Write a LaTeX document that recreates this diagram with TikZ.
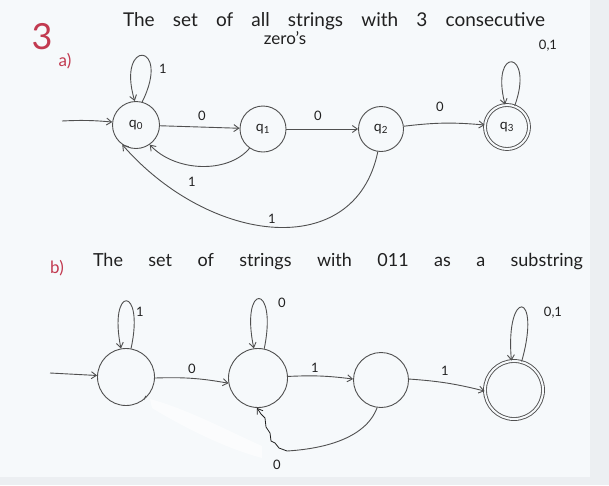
\documentclass[tikz,border=0pt]{standalone}
\usepackage{fontspec}
\setmainfont{Lato}
\usetikzlibrary{arrows.meta}
\definecolor{ink}{HTML}{505050}
\definecolor{pen}{HTML}{202020}
\definecolor{redink}{HTML}{C23A50}
\definecolor{paper}{HTML}{F6F9FB}
\definecolor{strip}{HTML}{ECEFF2}
\begin{document}
\begin{tikzpicture}[x=1pt,y=-1pt,
  state/.style={circle,draw=ink,line width=0.9pt,inner sep=0pt,font=\fontsize{14}{14}\selectfont,text=pen},
  accept/.style={state,double=paper,double distance=2pt},
  edge/.style={draw=ink,line width=0.9pt,-{Straight Barb[length=5pt,width=7pt]}},
  lbl/.style={font=\fontsize{13}{13}\selectfont,text=pen,inner sep=0pt},
  title/.style={font=\fontsize{19}{19}\selectfont,text=pen,inner sep=0pt},
  tag/.style={font=\fontsize{17}{17}\selectfont,text=redink,inner sep=0pt}]
\fill[strip] (0,0) rectangle (609,485);
\fill[paper] (0,0) rectangle (590,477);
\useasboundingbox (0,0) rectangle (609,485);

% headings
\node[text=redink,font=\fontsize{36}{36}\selectfont,inner sep=0pt] (n3) at (42,37) {3};
\node[tag] (ta) at (65,61) {a)};
\node[title] (tla) at (334,21) {\makebox[422pt][s]{The set of all strings with 3 consecutive}};
\node[title,font=\fontsize{17}{17}\selectfont] (tlz) at (285,38) {zero's};
\node[tag] (tb) at (57,268) {b)};
\node[title,font=\fontsize{18}{18}\selectfont] (tlb) at (338,262) {\makebox[490pt][s]{The set of strings with 011 as a substring}};

% part a
\node[state,minimum size=47pt] (q0) at (136,125) {q\textsubscript{0}};
\node[state,minimum size=46pt] (q1) at (263,129) {q\textsubscript{1}};
\node[state,minimum size=45pt] (q2) at (381,129) {q\textsubscript{2}};
\node[accept,minimum size=44pt] (q3) at (507,127) {q\textsubscript{3}};
\coordinate (sa) at (62,121);
\draw[edge] (sa) to[bend right=-4] (q0);
\draw[edge] (q0.75) .. controls (172,42) and (116,38) .. (q0.93);
\node[lbl] (la0) at (163,69) {1};
\draw[edge] (q3.70) .. controls (535,50) and (490,45) .. (q3.95);
\node[lbl] (la3) at (548,46) {0,1};
\draw[edge] (q0) -- (q1);
\node[lbl] (la01) at (202,116) {0};
\draw[edge] (q1) -- (q2);
\node[lbl] (la12) at (318,116) {0};
\draw[edge] (q2) to[bend left=6] (q3);
\node[lbl] (la23) at (440,107) {0};
\draw[edge] (q1.235) .. controls (228,174) and (175,172) .. (q0.-55);
\node[lbl] (la10) at (192,182) {1};
\draw[edge] (q2.262) .. controls (355,262) and (210,245) .. (q0.235);
\node[lbl] (la20) at (272,219) {1};

% part b
\fill[white,opacity=0.6] (150,399) .. controls (190,410) and (230,432) .. (262,446) -- (262,458) .. controls (225,448) and (185,428) .. (152,408) -- cycle;
\node[state,minimum size=57pt] (c1) at (126,377) {};
\node[state,minimum size=59pt] (c2) at (258,378) {};
\node[state,minimum size=55pt] (c3) at (381,380) {};
\node[accept,minimum size=58pt] (c4) at (514,390) {};
\draw[ink,line width=0.8pt] (c1.-52) -- ++(2,-4);
\coordinate (sb) at (50,373);
\draw[edge] (sb) -- (c1);
\draw[edge] (c1.80) .. controls (145,285) and (108,285) .. (c1.100);
\node[lbl] (lb1) at (140,312) {1};
\draw[edge] (c2.78) .. controls (278,282) and (240,282) .. (c2.98);
\node[lbl] (lb2) at (282,303) {0};
\draw[edge] (c4.75) .. controls (542,290) and (505,288) .. (c4.95);
\node[lbl] (lb4) at (553,313) {0,1};
\draw[edge] (c1.-2) to[bend left=6] (c2.190);
\node[lbl] (lb12) at (192,369) {0};
\draw[edge] (c2.3) to[bend left=5] (c3.178);
\node[lbl] (lb23) at (315,368) {1};
\draw[edge] (c3.2) to[bend left=5] (c4.182);
\node[lbl] (lb34) at (445,371) {1};
\coordinate (jb) at (287,451);
\draw[ink,line width=0.9pt] (c3.262) .. controls (365,440) and (320,449) .. (jb);
\draw[pen,line width=0.8pt,-{Straight Barb[length=5pt,width=7pt]}] (jb) -- (279,448) -- (275,443) -- (271,441) -- (270,433) -- (266,427) -- (265,418) -- (261,414) -- (c2.268);
\node[lbl] (lb32) at (277,465) {0};
\end{tikzpicture}
\end{document}
